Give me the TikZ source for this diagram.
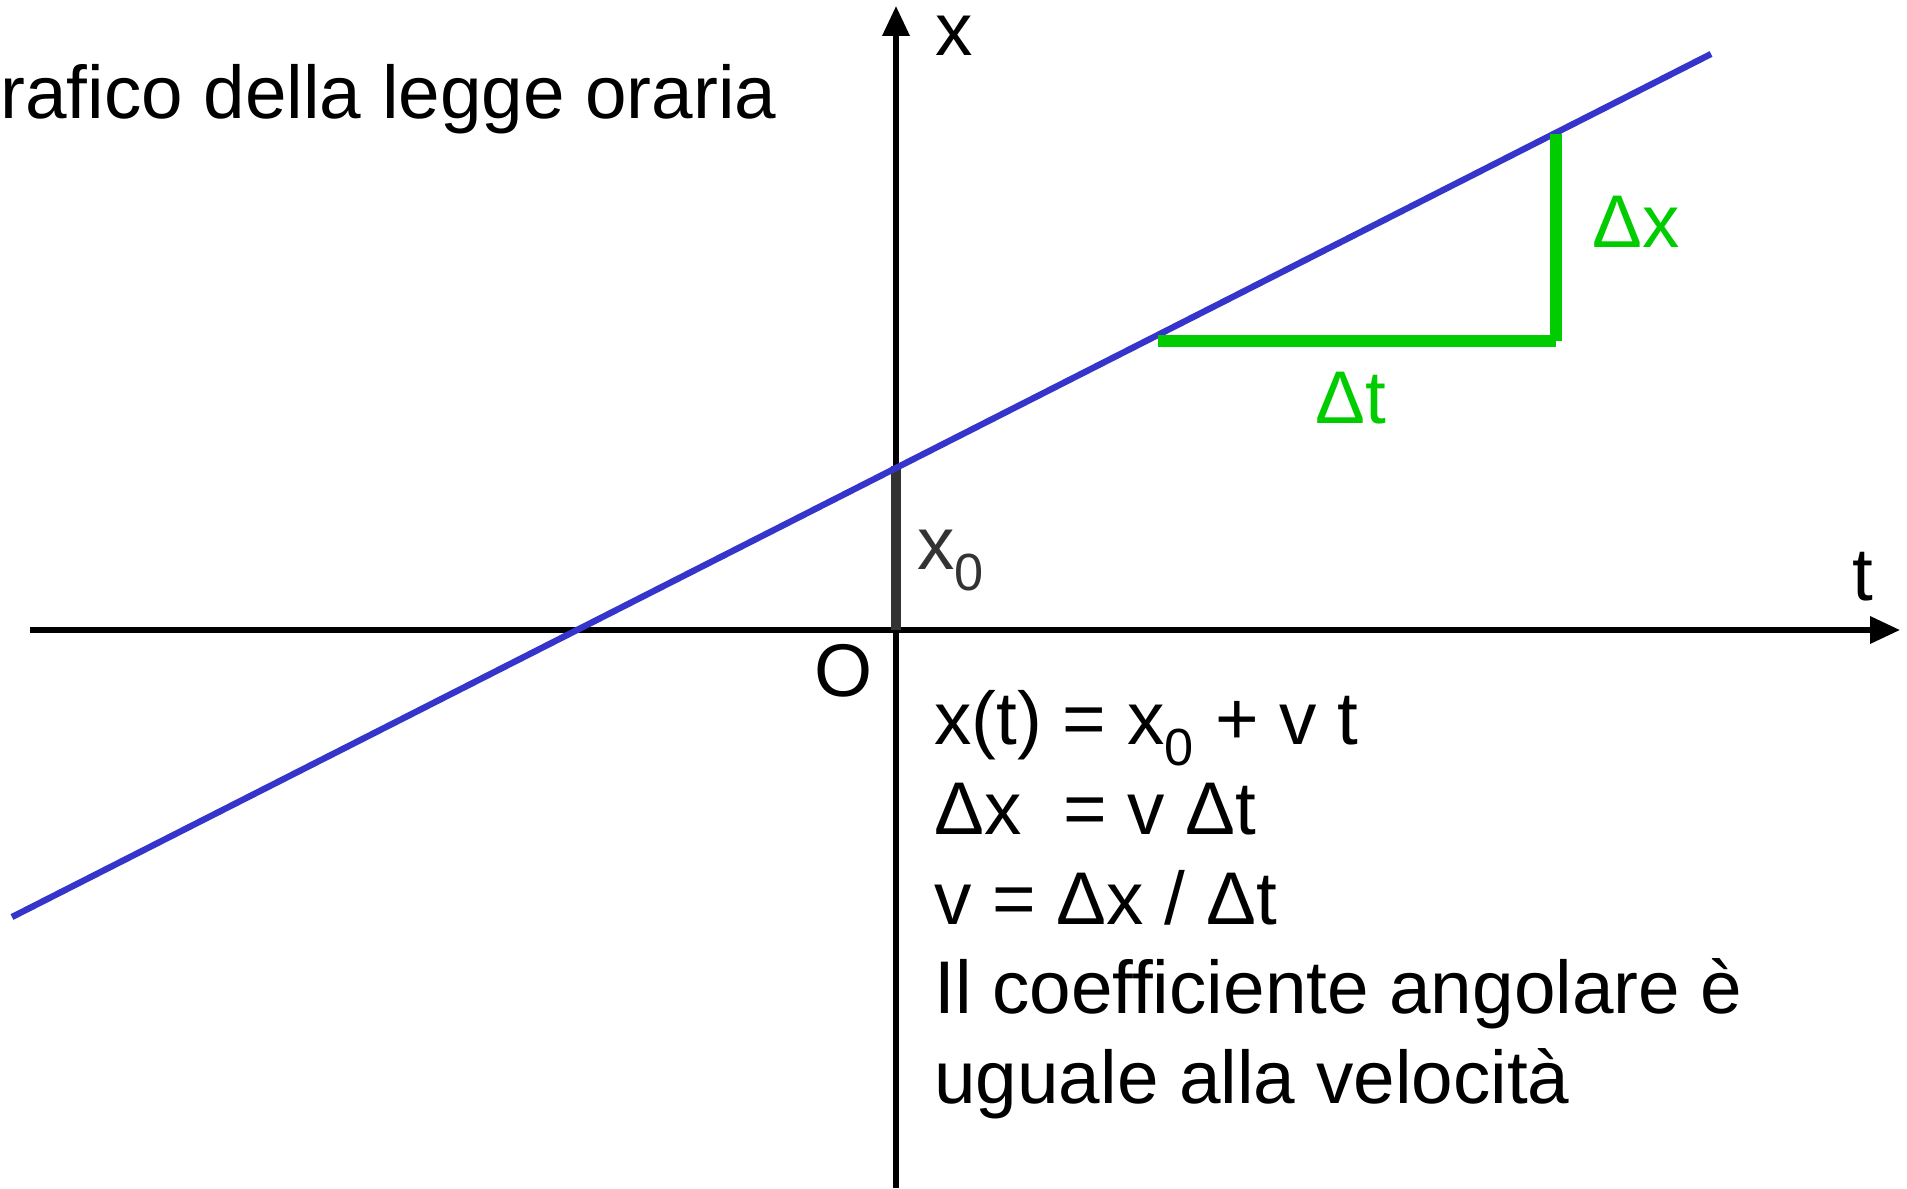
\documentclass[tikz,border=0pt]{standalone}
\usepackage{fontspec}
\setmainfont{Liberation Sans}
\usetikzlibrary{arrows.meta,positioning}
\definecolor{lawblue}{HTML}{3535CC}
\definecolor{deltagreen}{HTML}{00CC00}
\definecolor{offsetgray}{HTML}{333333}
\tikzset{
  axisline/.style={line width=3pt,black,-{Triangle[length=17pt,width=15pt]}},
  lawline/.style={line width=3.6pt,lawblue},
  deltaline/.style={line width=6.5pt,deltagreen},
  offsetline/.style={line width=5.5pt,offsetgray},
  biglabel/.style={inner sep=0pt,anchor=base west,font=\fontsize{42.5}{50}\selectfont},
  greenlabel/.style={biglabel,text=deltagreen}
}

\begin{document}
\begin{tikzpicture}[x=0.02cm,y=-0.02cm]
  \useasboundingbox (0,0) rectangle (1907,1188);
  % axes
  \coordinate (origin) at (896,630);
  \coordinate (tstart) at (30,630);
  \coordinate (tend) at (1900,630);
  \coordinate (xstart) at (896,1188);
  \coordinate (xend) at (896,6);
  \draw[axisline] (tstart) -- (tend);
  \draw[axisline] (xstart) -- (xend);

  % law of motion
  \coordinate (x0pt) at (896,466);
  \coordinate (lawa) at (12,917);
  \coordinate (lawb) at (1711,54);
  \draw[offsetline] (origin) -- (x0pt);
  \draw[lawline] (lawa) -- (lawb);

  % slope triangle
  \coordinate (tria) at (1158,341);
  \coordinate (trib) at (1556,341);
  \coordinate (tric) at (1556,134);
  \draw[deltaline] (tria) -- (trib);
  \draw[deltaline] (trib) -- (tric);

  % labels
  \node[biglabel] (title) at (0,118) {rafico della legge oraria};
  \node[biglabel] (xlab) at (935,55) {x};
  \node[biglabel] (tlab) at (1852,600) {t};
  \node[biglabel] (olab) at (814,696) {O};
  \node[biglabel,text=offsetgray] (x0lab) at (917,569) {x\textsubscript{0}};
  \node[greenlabel] (dxlab) at (1592,247) {Δx};
  \node[greenlabel] (dtlab) at (1315,423) {Δt};

  % formulas
  \node[biglabel] (eqa) at (934,744) {x(t) = x\textsubscript{0} + v t};
  \node[biglabel] (eqb) at (934,834) {Δx \ = v Δt};
  \node[biglabel] (eqc) at (934,924) {v = Δx / Δt};
  \node[biglabel] (eqd) at (934,1013) {Il coefficiente angolare è};
  \node[biglabel] (eqe) at (934,1103) {uguale alla velocità};
\end{tikzpicture}
\end{document}
